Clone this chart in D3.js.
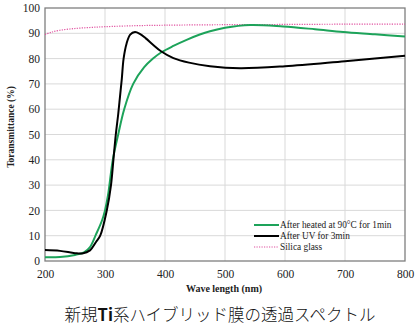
<!DOCTYPE html>
<html><head><meta charset="utf-8">
<script src="https://cdn.jsdelivr.net/npm/d3@7"></script>
<style>body{margin:0;background:#fff;}svg{display:block;}</style>
</head><body>
<svg id="c" width="419" height="325"></svg>
<script>
const xTicks = [200,300,400,500,600,700,800];
const yTicks = [0,10,20,30,40,50,60,70,80,90,100];
const seriesNames = ["After heated at 90\u00B0C for 1min","After UV for 3min","Silica glass"];
const heatedWl = [200,225,250,265,275,285,295,300,305,313,322,332,347,365,380,394,414,436,458,475,500,542,597,650,697,750,800];
const heatedT  = [1.5,1.6,2.4,3.4,5.5,10.5,16,20,26,40,50,60,70,76.5,80,82.5,85,87.4,89.5,90.8,92.2,93.3,92.7,91.6,90.5,89.6,88.7];
const uvWl = [200,225,250,262,275,285,292,303,310,314,318,322,325,328,331,336,342,350,358,368,380,394,414,440,475,525,600,700,800];
const uvT  = [4.3,4.0,3.1,3.0,4.2,7.5,10,20,30,40,50,58,65,72,80,86,89.5,90.5,89.8,88,85.5,82.8,80.2,78.4,77,76.2,77,79,81.1];
const glassWl = [200,210,225,250,275,300,350,400,500,600,700,800];
const glassT  = [89.5,90.4,91.2,91.9,92.3,92.6,93.0,93.2,93.4,93.5,93.6,93.6];

const svg = d3.select("#c");
const L=45, R=405, T=8, B=261;
const x = d3.scaleLinear().domain([200,800]).range([L,R]);
const y = d3.scaleLinear().domain([0,100]).range([B,T]);
const serif = "'Liberation Serif','Times New Roman',serif";

// grid
svg.append("g").selectAll("line.v").data(xTicks.slice(1,-1)).join("line")
  .attr("x1",d=>x(d)).attr("x2",d=>x(d)).attr("y1",T).attr("y2",B)
  .attr("stroke","#d9d9d9").attr("stroke-width",1);
svg.append("g").selectAll("line.h").data(yTicks.slice(1,-1)).join("line")
  .attr("y1",d=>y(d)).attr("y2",d=>y(d)).attr("x1",L).attr("x2",R)
  .attr("stroke","#d9d9d9").attr("stroke-width",1);

// frame
svg.append("rect").attr("x",L).attr("y",T).attr("width",R-L).attr("height",B-T)
  .attr("fill","none").attr("stroke","#7f7f7f").attr("stroke-width",1.3);

// axes labels
const xa = svg.append("g").attr("transform",`translate(0,${B})`)
  .call(d3.axisBottom(x).tickValues(xTicks).tickSize(0).tickPadding(9).tickFormat(d3.format("d")));
xa.select(".domain").remove();
xa.selectAll("text").attr("font-family",serif).attr("font-size",11.5).attr("fill","#222");
const ya = svg.append("g").attr("transform",`translate(${L},0)`)
  .call(d3.axisLeft(y).tickValues(yTicks).tickSize(0).tickPadding(5).tickFormat(d3.format("d")));
ya.select(".domain").remove();
ya.selectAll("text").attr("font-family",serif).attr("font-size",11.5).attr("fill","#222");

// titles
svg.append("text").attr("x",224).attr("y",292).attr("text-anchor","middle")
  .attr("font-family",serif).attr("font-weight","bold").attr("font-size",10).attr("fill","#222")
  .text("Wave length (nm)");
svg.append("text").attr("transform","translate(14,127) rotate(-90)").attr("text-anchor","middle")
  .attr("font-family",serif).attr("font-weight","bold").attr("font-size",9.5).attr("fill","#222")
  .text("Toransmittance (%)");

// lines
const line = d3.line().x(d=>x(d[0])).y(d=>y(d[1])).curve(d3.curveCatmullRom.alpha(0.5));
svg.append("path").datum(d3.zip(glassWl,glassT)).attr("d",line)
  .attr("fill","none").attr("stroke","#e0509f").attr("stroke-width",1.2).attr("stroke-dasharray","1.2,1.3");
svg.append("path").datum(d3.zip(heatedWl,heatedT)).attr("d",line)
  .attr("fill","none").attr("stroke","#1da35a").attr("stroke-width",2);
svg.append("path").datum(d3.zip(uvWl,uvT)).attr("d",line)
  .attr("fill","none").attr("stroke","#000").attr("stroke-width",2);

// legend
const lg = svg.append("g");
const lcol = ["#1da35a","#000","#e0509f"];
const lys = [225,236,247];
seriesNames.forEach((n,i)=>{
  const ln = lg.append("line").attr("x1",254).attr("x2",279).attr("y1",lys[i]).attr("y2",lys[i])
    .attr("stroke",lcol[i]).attr("stroke-width",i<2?2:1.2);
  if(i==2) ln.attr("stroke-dasharray","1.2,1.3");
  lg.append("text").attr("x",280).attr("y",lys[i]+3).attr("font-family",serif)
    .attr("font-size",9.3).attr("fill","#222").text(n);
});

// caption
const cap = svg.append("text").attr("x",220).attr("y",321).attr("text-anchor","middle")
  .attr("font-family","'Noto Sans CJK JP',sans-serif").attr("font-weight",300).attr("font-size",16.5).attr("fill","#111");
cap.append("tspan").text("新規");
cap.append("tspan").attr("font-weight","bold").text("Ti");
cap.append("tspan").text("系ハイブリッド膜の透過スペクトル");
</script>
</body></html>
